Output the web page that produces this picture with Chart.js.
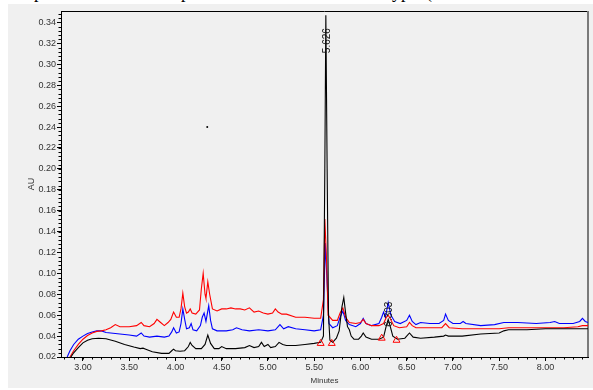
<!DOCTYPE html>
<html>
<head>
<meta charset="utf-8">
<script src="https://cdn.jsdelivr.net/npm/chart.js@4.4.1/dist/chart.umd.min.js"></script>
<style>
  html, body { margin: 0; padding: 0; background: #fff; overflow: hidden; width: 593px; height: 390px; }
  .cut { position: absolute; top: -17px; font: 18px "Liberation Serif", serif; line-height: 18px; color: #000; }
  #box { position: absolute; left: 8px; top: 4px; width: 585px; height: 384px; background: #f0f0f0; }
</style>
</head>
<body>
<span class="cut" style="left:34px">p</span>
<span class="cut" style="left:181px">p</span>
<span class="cut" style="left:392px">yp</span>
<span class="cut" style="left:426px">(</span>
<div id="box"><canvas id="chart"></canvas></div>
<script>
// retention time (min) / absorbance (AU)
const blackTime = [2.87, 2.90, 2.95, 3.00, 3.05, 3.10, 3.17, 3.25, 3.35, 3.45, 3.55, 3.62, 3.65, 3.68, 3.75, 3.85, 3.93, 3.96, 3.98, 4.00, 4.05, 4.10, 4.14, 4.16, 4.18, 4.22, 4.28, 4.32, 4.35, 4.38, 4.42, 4.47, 4.50, 4.55, 4.65, 4.75, 4.80, 4.85, 4.90, 4.93, 4.96, 5.00, 5.03, 5.08, 5.12, 5.16, 5.20, 5.30, 5.40, 5.50, 5.57, 5.60, 5.615, 5.626, 5.64, 5.655, 5.67, 5.70, 5.74, 5.77, 5.80, 5.82, 5.84, 5.86, 5.88, 5.90, 5.93, 5.98, 6.01, 6.03, 6.06, 6.12, 6.20, 6.25, 6.28, 6.30, 6.32, 6.35, 6.40, 6.48, 6.53, 6.57, 6.65, 6.80, 6.90, 6.92, 6.95, 7.10, 7.30, 7.50, 7.55, 7.60, 7.80, 8.00, 8.20, 8.40, 8.46];
const blackAU = [0.020, 0.024, 0.029, 0.0335, 0.036, 0.0375, 0.038, 0.0375, 0.035, 0.032, 0.0295, 0.028, 0.0285, 0.0275, 0.025, 0.0235, 0.0235, 0.026, 0.0275, 0.026, 0.0255, 0.026, 0.030, 0.034, 0.031, 0.028, 0.028, 0.032, 0.041, 0.033, 0.028, 0.028, 0.030, 0.028, 0.028, 0.029, 0.031, 0.029, 0.030, 0.034, 0.030, 0.032, 0.029, 0.030, 0.034, 0.032, 0.031, 0.031, 0.032, 0.033, 0.034, 0.040, 0.200, 0.347, 0.200, 0.060, 0.036, 0.034, 0.038, 0.045, 0.068, 0.077, 0.062, 0.049, 0.046, 0.040, 0.037, 0.037, 0.040, 0.043, 0.039, 0.037, 0.037, 0.039, 0.050, 0.056, 0.050, 0.040, 0.037, 0.038, 0.043, 0.039, 0.038, 0.039, 0.040, 0.041, 0.040, 0.040, 0.042, 0.043, 0.045, 0.046, 0.046, 0.047, 0.047, 0.047, 0.047];

const blueTime = [2.83, 2.86, 2.90, 2.95, 3.00, 3.05, 3.10, 3.15, 3.20, 3.25, 3.30, 3.35, 3.40, 3.50, 3.58, 3.63, 3.66, 3.72, 3.80, 3.88, 3.93, 3.96, 3.98, 4.01, 4.04, 4.06, 4.08, 4.10, 4.12, 4.15, 4.17, 4.19, 4.23, 4.27, 4.29, 4.31, 4.33, 4.36, 4.38, 4.40, 4.45, 4.55, 4.62, 4.66, 4.72, 4.80, 4.90, 5.00, 5.08, 5.13, 5.17, 5.22, 5.30, 5.40, 5.50, 5.57, 5.60, 5.62, 5.64, 5.66, 5.70, 5.75, 5.78, 5.81, 5.84, 5.88, 5.95, 6.00, 6.03, 6.06, 6.12, 6.20, 6.23, 6.25, 6.27, 6.30, 6.33, 6.37, 6.43, 6.50, 6.53, 6.56, 6.60, 6.65, 6.75, 6.85, 6.90, 6.92, 6.95, 7.00, 7.08, 7.11, 7.14, 7.30, 7.45, 7.55, 7.70, 7.90, 8.05, 8.10, 8.15, 8.30, 8.37, 8.40, 8.43, 8.46];
const blueAU = [0.020, 0.026, 0.032, 0.037, 0.040, 0.0425, 0.044, 0.045, 0.045, 0.0435, 0.043, 0.0425, 0.042, 0.041, 0.040, 0.043, 0.040, 0.039, 0.040, 0.039, 0.040, 0.044, 0.048, 0.043, 0.044, 0.052, 0.066, 0.056, 0.047, 0.048, 0.052, 0.046, 0.045, 0.050, 0.058, 0.062, 0.054, 0.069, 0.055, 0.047, 0.045, 0.045, 0.046, 0.048, 0.046, 0.045, 0.046, 0.045, 0.046, 0.051, 0.047, 0.049, 0.047, 0.046, 0.045, 0.046, 0.060, 0.129, 0.090, 0.052, 0.048, 0.050, 0.058, 0.064, 0.055, 0.051, 0.049, 0.052, 0.057, 0.052, 0.050, 0.052, 0.058, 0.063, 0.058, 0.072, 0.060, 0.054, 0.052, 0.055, 0.060, 0.054, 0.051, 0.053, 0.052, 0.052, 0.055, 0.061, 0.055, 0.052, 0.052, 0.054, 0.052, 0.050, 0.051, 0.053, 0.053, 0.052, 0.053, 0.054, 0.052, 0.052, 0.054, 0.057, 0.054, 0.053];

const redTime = [2.86, 2.90, 2.95, 3.00, 3.05, 3.10, 3.15, 3.20, 3.25, 3.30, 3.35, 3.40, 3.50, 3.58, 3.63, 3.66, 3.72, 3.77, 3.80, 3.84, 3.88, 3.92, 3.95, 3.98, 4.01, 4.04, 4.06, 4.08, 4.10, 4.12, 4.14, 4.16, 4.18, 4.22, 4.26, 4.28, 4.30, 4.32, 4.33, 4.35, 4.37, 4.40, 4.45, 4.50, 4.55, 4.60, 4.65, 4.70, 4.75, 4.80, 4.85, 4.90, 4.95, 5.00, 5.05, 5.08, 5.11, 5.15, 5.20, 5.30, 5.40, 5.50, 5.57, 5.60, 5.615, 5.635, 5.65, 5.70, 5.75, 5.78, 5.81, 5.84, 5.88, 5.95, 6.00, 6.03, 6.06, 6.12, 6.20, 6.25, 6.28, 6.30, 6.32, 6.36, 6.42, 6.50, 6.53, 6.56, 6.60, 6.75, 6.88, 6.92, 6.96, 7.10, 7.30, 7.50, 7.60, 7.80, 8.00, 8.20, 8.35, 8.40, 8.46];
const redAU = [0.020, 0.026, 0.032, 0.037, 0.0405, 0.043, 0.0445, 0.045, 0.046, 0.048, 0.051, 0.049, 0.049, 0.050, 0.053, 0.050, 0.049, 0.052, 0.056, 0.053, 0.050, 0.053, 0.056, 0.063, 0.058, 0.058, 0.066, 0.081, 0.068, 0.062, 0.063, 0.066, 0.062, 0.061, 0.065, 0.085, 0.100, 0.080, 0.076, 0.092, 0.080, 0.066, 0.064, 0.066, 0.066, 0.067, 0.066, 0.066, 0.065, 0.067, 0.063, 0.064, 0.062, 0.061, 0.062, 0.066, 0.063, 0.061, 0.061, 0.058, 0.058, 0.057, 0.057, 0.075, 0.152, 0.110, 0.060, 0.055, 0.055, 0.062, 0.067, 0.058, 0.053, 0.052, 0.053, 0.056, 0.052, 0.050, 0.050, 0.052, 0.058, 0.060, 0.057, 0.050, 0.048, 0.049, 0.053, 0.050, 0.048, 0.048, 0.048, 0.052, 0.048, 0.047, 0.047, 0.047, 0.048, 0.048, 0.048, 0.048, 0.049, 0.050, 0.050];

// integration baseline marks (red triangles)
const markTime = [5.57, 5.69, 6.23, 6.39];
const markAU = [0.033, 0.033, 0.038, 0.036];

// peak labels
const peakTime = [5.626, 6.303];
const peakTop = [0.347, 0.072];
const peakText = ['5.626', '6.303'];

// stray dot
const dotTime = [4.344];
const dotAU = [0.240];

const xTicks = [3.0, 3.5, 4.0, 4.5, 5.0, 5.5, 6.0, 6.5, 7.0, 7.5, 8.0];
const yTicks = [0.02, 0.04, 0.06, 0.08, 0.10, 0.12, 0.14, 0.16, 0.18, 0.20, 0.22, 0.24, 0.26, 0.28, 0.30, 0.32, 0.34];

const pts = (t, v) => t.map((x, i) => ({ x: x, y: v[i] }));
const trace = (t, v, color) => ({
  data: pts(t, v), borderColor: color, borderWidth: 1.1, pointRadius: 0, tension: 0, fill: false
});

const tickFont = { family: 'Liberation Sans, Arial, sans-serif', size: 9 };

const frame = {
  id: 'frame',
  beforeDatasetsDraw(chart) {
    const { ctx, chartArea: a, scales: { x, y } } = chart;
    ctx.save();
    ctx.strokeStyle = '#000';
    ctx.lineWidth = 1;
    ctx.beginPath();
    ctx.moveTo(a.left, a.top + 0.5);
    ctx.lineTo(a.right, a.top + 0.5);
    ctx.stroke();
    ctx.strokeStyle = '#7a7a7a';
    ctx.lineWidth = 2;
    ctx.beginPath();
    ctx.moveTo(a.right, a.top);
    ctx.lineTo(a.right, a.bottom);
    ctx.stroke();
    // minor ticks
    ctx.strokeStyle = '#000';
    ctx.lineWidth = 1;
    ctx.beginPath();
    for (let v = 0.024; v < 0.351; v += 0.004) {
      const py = Math.round(y.getPixelForValue(v)) + 0.5;
      ctx.moveTo(a.left - 2.5, py);
      ctx.lineTo(a.left, py);
    }
    for (let t = 2.8; t < 8.46; t += 0.1) {
      const px = Math.round(x.getPixelForValue(t)) + 0.5;
      ctx.moveTo(px, a.bottom);
      ctx.lineTo(px, a.bottom + 2.5);
    }
    ctx.stroke();
    ctx.restore();
  },
  afterDatasetsDraw(chart) {
    const { ctx, scales: { x, y } } = chart;
    ctx.save();
    ctx.fillStyle = '#111';
    ctx.font = '10px "Liberation Sans", Arial, sans-serif';
    ctx.textBaseline = 'middle';
    ctx.textAlign = 'left';
    peakTime.forEach((t, i) => {
      const px = x.getPixelForValue(t);
      const py = y.getPixelForValue(peakTop[i]);
      ctx.save();
      ctx.translate(px + 1, py + (i === 0 ? 38 : 24));
      ctx.rotate(-Math.PI / 2);
      ctx.fillText(peakText[i], 0, 0);
      ctx.restore();
    });
    ctx.restore();
  }
};

new Chart(document.getElementById('chart'), {
  type: 'line',
  data: {
    datasets: [
      { type: 'scatter', data: pts(markTime, markAU), pointStyle: 'triangle', pointRadius: 4, borderColor: '#ff0000', backgroundColor: 'rgba(0,0,0,0)', borderWidth: 1 },
      { type: 'scatter', data: pts(dotTime, dotAU), pointRadius: 1, borderWidth: 0, backgroundColor: '#000' },
      trace(blackTime, blackAU, '#000000'),
      trace(redTime, redAU, '#ff0000'),
      trace(blueTime, blueAU, '#0000ff')
    ]
  },
  options: {
    responsive: true,
    maintainAspectRatio: false,
    animation: false,
    layout: { padding: { top: 7, right: 3, left: 0, bottom: 0 } },
    plugins: { legend: { display: false }, tooltip: { enabled: false } },
    scales: {
      x: {
        type: 'linear', min: 2.763, max: 8.46,
        afterBuildTicks: s => { s.ticks = xTicks.map(v => ({ value: v })); },
        afterFit: s => { s.height = 31; },
        ticks: { callback: v => v.toFixed(2), font: tickFont, color: '#333', padding: 1, maxRotation: 0, autoSkip: false },
        grid: { drawOnChartArea: false, tickLength: 4, color: '#000' },
        border: { color: '#000', width: 1 },
        title: { display: true, text: 'Minutes', color: '#333', font: { family: 'Liberation Sans, Arial, sans-serif', size: 8 }, padding: { top: 0, bottom: 2 } }
      },
      y: {
        type: 'linear', min: 0.02, max: 0.351,
        afterBuildTicks: s => { s.ticks = yTicks.map(v => ({ value: v })); },
        afterFit: s => { s.width = 53; },
        ticks: { callback: v => v.toFixed(2), font: tickFont, color: '#333', padding: 1, autoSkip: false },
        grid: { drawOnChartArea: false, tickLength: 4, color: '#000' },
        border: { color: '#000', width: 1 },
        title: { display: true, text: 'AU', color: '#333', font: { family: 'Liberation Sans, Arial, sans-serif', size: 9 }, padding: { top: 18, bottom: 0 } }
      }
    }
  },
  plugins: [frame]
});
</script>
</body>
</html>
